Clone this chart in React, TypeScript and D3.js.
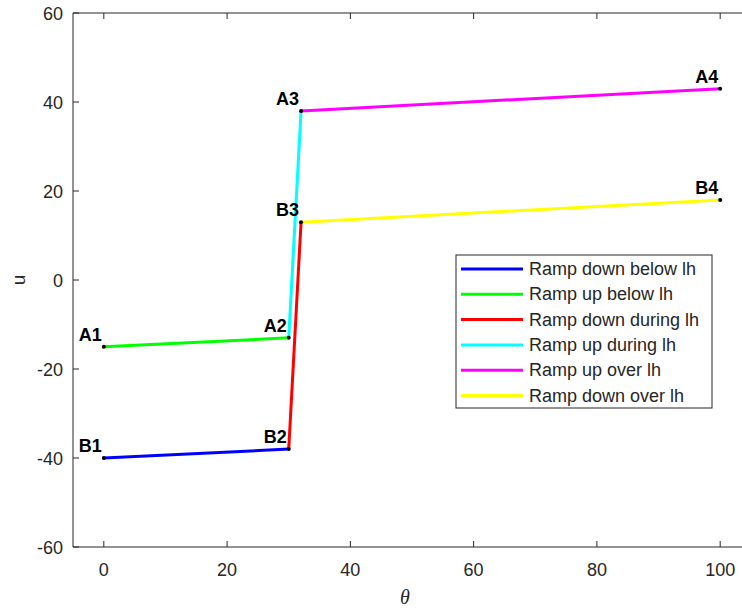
import * as d3 from "d3";
import React from "react";

// points (theta, u)
const pointNames = ["A1", "A2", "A3", "A4", "B1", "B2", "B3", "B4"];
const pointTheta = [0, 30, 32, 100, 0, 30, 32, 100];
const pointU = [-15, -13, 38, 43, -40, -38, 13, 18];

// each segment joins two named points
const seriesNames = [
  "Ramp down below lh",
  "Ramp up below lh",
  "Ramp down during lh",
  "Ramp up during lh",
  "Ramp up over lh",
  "Ramp down over lh",
];
const seriesFrom = ["B1", "A1", "B2", "A2", "A3", "B3"];
const seriesTo = ["B2", "A2", "B3", "A3", "A4", "B4"];
const seriesColors = ["#0000ff", "#00ff00", "#ff0000", "#00ffff", "#ff00ff", "#ffff00"];

const xTicks = [0, 20, 40, 60, 80, 100];
const yTicks = [-60, -40, -20, 0, 20, 40, 60];

const W = 742;
const H = 611;
const font = "'Liberation Sans', Arial, sans-serif";
const ink = "#262626";

export default function App() {
  const x = d3.scaleLinear().domain([-5, 105]).range([73, 751]);
  const y = d3.scaleLinear().domain([-60, 60]).range([547, 13]);

  const pt = (name: string) => {
    const i = pointNames.indexOf(name);
    return [x(pointTheta[i]), y(pointU[i])];
  };
  const line = d3.line();

  const lgX = 456;
  const lgY = 255;
  const rowH = 25.3;

  return (
    <svg
      width={W}
      height={H}
      style={{ position: "absolute", left: 0, top: 0, background: "#fff" }}
    >
      {/* axes box */}
      <path
        d={`M${x(105)},${y(60)}H${x(-5)}V${y(-60)}H${x(105)}`}
        fill="none"
        stroke={ink}
        strokeWidth={1}
      />
      {xTicks.map((t) => (
        <g key={"x" + t}>
          <line x1={x(t)} x2={x(t)} y1={y(-60)} y2={y(-60) - 6} stroke={ink} />
          <line x1={x(t)} x2={x(t)} y1={y(60)} y2={y(60) + 6} stroke={ink} />
          <text
            x={x(t)}
            y={y(-60) + 29}
            textAnchor="middle"
            fontFamily={font}
            fontSize={18}
            fill={ink}
          >
            {t}
          </text>
        </g>
      ))}
      {yTicks.map((t) => (
        <g key={"y" + t}>
          <line x1={x(-5)} x2={x(-5) + 6} y1={y(t)} y2={y(t)} stroke={ink} />
          <text
            x={x(-5) - 10}
            y={y(t) + 6.5}
            textAnchor="end"
            fontFamily={font}
            fontSize={18}
            fill={ink}
          >
            {t}
          </text>
        </g>
      ))}
      <text
        x={405}
        y={604}
        textAnchor="middle"
        fontFamily="'Liberation Serif', serif"
        fontStyle="italic"
        fontSize={20}
        fill={ink}
      >
        θ
      </text>
      <text
        transform={`translate(25,${y(0)}) rotate(-90)`}
        textAnchor="middle"
        fontFamily={font}
        fontSize={19}
        fill={ink}
      >
        u
      </text>

      {/* segments */}
      {seriesNames.map((s, i) => (
        <path
          key={s}
          d={line([pt(seriesFrom[i]), pt(seriesTo[i])] as [number, number][]) || ""}
          stroke={seriesColors[i]}
          strokeWidth={3}
          fill="none"
        />
      ))}

      {/* points and labels */}
      {pointNames.map((n, i) => (
        <g key={n}>
          <circle cx={x(pointTheta[i])} cy={y(pointU[i])} r={2} fill="#000" />
          <text
            x={x(pointTheta[i]) - 2}
            y={y(pointU[i]) - 6}
            textAnchor="end"
            fontFamily={font}
            fontWeight="bold"
            fontSize={18}
            fill="#000"
          >
            {n}
          </text>
        </g>
      ))}

      {/* legend */}
      <rect
        x={lgX}
        y={lgY}
        width={256}
        height={153}
        fill="#fff"
        stroke={ink}
        strokeWidth={1}
      />
      {seriesNames.map((s, i) => {
        const cy = lgY + 14 + i * rowH;
        return (
          <g key={"lg" + s}>
            <line x1={lgX + 5} x2={lgX + 67} y1={cy} y2={cy} stroke={seriesColors[i]} strokeWidth={3} />
            <text x={lgX + 73} y={cy + 6} fontFamily={font} fontSize={18} fill={ink}>
              {s}
            </text>
          </g>
        );
      })}
    </svg>
  );
}
